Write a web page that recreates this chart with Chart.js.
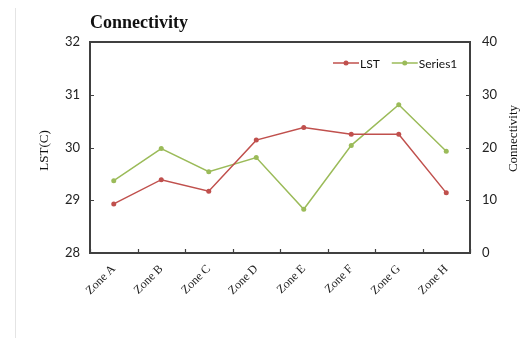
<!DOCTYPE html>
<html>
<head>
<meta charset="utf-8">
<script src="https://cdn.jsdelivr.net/npm/chart.js@4/dist/chart.umd.min.js"></script>
<style>
  html, body { margin: 0; padding: 0; background: #ffffff; }
  #wrap { position: relative; width: 529px; height: 338px; }
  #edge { position: absolute; left: 15px; top: 8px; width: 0; height: 330px; border-left: 1px solid #e4e4e4; }
  canvas { position: absolute; left: 0; top: 0; }
</style>
</head>
<body>
<div id="wrap">
  <div id="edge"></div>
  <canvas id="c" width="529" height="338"></canvas>
</div>
<script>
const chartTitle = "Connectivity";
const categories = ["Zone A", "Zone B", "Zone C", "Zone D", "Zone E", "Zone F", "Zone G", "Zone H"];
const lstLabel = "LST";
const lstValues = [28.93, 29.39, 29.17, 30.14, 30.38, 30.25, 30.25, 29.14];
const series1Label = "Series1";
const series1Values = [13.7, 19.8, 15.4, 18.1, 8.3, 20.4, 28.1, 19.3];
const leftAxisTitle = "LST(C)";
const rightAxisTitle = "Connectivity";
const leftTicks = [28, 29, 30, 31, 32];
const rightTicks = [0, 10, 20, 30, 40];

const RED = "#C0504D";
const GREEN = "#9BBB59";
const AXIS = "#404040";
const SERIF = "'Liberation Serif', 'Times New Roman', serif";
const SANS = "Lato, 'Liberation Sans', sans-serif";

const decor = {
  id: "decor",
  beforeDatasetsDraw(chart) {
    const ctx = chart.ctx;
    const a = chart.chartArea;
    const x = chart.scales.x, y = chart.scales.y, y1 = chart.scales.y1;
    ctx.save();
    ctx.strokeStyle = AXIS;
    ctx.lineWidth = 2;
    ctx.strokeRect(a.left, a.top, a.right - a.left, a.bottom - a.top);
    ctx.lineWidth = 1.2;
    ctx.beginPath();
    y.ticks.forEach((t, i) => {
      const py = Math.round(y.getPixelForTick(i)) + 0.5;
      ctx.moveTo(a.left, py); ctx.lineTo(a.left + 4, py);
    });
    y1.ticks.forEach((t, i) => {
      const py = Math.round(y1.getPixelForTick(i)) + 0.5;
      ctx.moveTo(a.right - 4, py); ctx.lineTo(a.right, py);
    });
    for (let i = 0; i <= categories.length; i++) {
      const px = Math.round(x.getPixelForValue(i - 0.5)) + 0.5;
      ctx.moveTo(px, a.bottom); ctx.lineTo(px, a.bottom - 4);
    }
    ctx.stroke();
    ctx.restore();
  },
  afterDraw(chart) {
    const ctx = chart.ctx;
    const a = chart.chartArea;
    ctx.save();
    // title
    ctx.fillStyle = "#111111";
    ctx.font = "bold 18px " + SERIF;
    ctx.textAlign = "left";
    ctx.textBaseline = "alphabetic";
    ctx.fillText(chartTitle, a.left, 28);
    // axis titles
    ctx.font = "13px " + SERIF;
    ctx.textAlign = "center";
    ctx.textBaseline = "middle";
    ctx.save();
    ctx.translate(45, (a.top + a.bottom) / 2 + 3);
    ctx.rotate(-Math.PI / 2);
    ctx.fillText(leftAxisTitle, 0, 0);
    ctx.restore();
    ctx.save();
    ctx.translate(514, (a.top + a.bottom) / 2 - 9);
    ctx.rotate(-Math.PI / 2);
    ctx.fillText(rightAxisTitle, 0, 0);
    ctx.restore();
    // legend inside plot
    const items = chart.data.datasets.map(d => ({ label: d.label, color: d.borderColor }));
    ctx.font = "12px " + SANS;
    ctx.textAlign = "left";
    ctx.textBaseline = "middle";
    const ly = a.top + 21;
    let lx = a.right - 137;
    items.forEach(it => {
      ctx.strokeStyle = it.color;
      ctx.lineWidth = 1.5;
      ctx.beginPath();
      ctx.moveTo(lx, ly); ctx.lineTo(lx + 26, ly);
      ctx.stroke();
      ctx.fillStyle = it.color;
      ctx.beginPath();
      ctx.arc(lx + 13, ly, 2.5, 0, Math.PI * 2);
      ctx.fill();
      ctx.fillStyle = "#111111";
      ctx.fillText(it.label, lx + 27, ly + 1);
      lx += 27 + ctx.measureText(it.label).width + 12;
    });
    ctx.restore();
  }
};

new Chart(document.getElementById("c"), {
  type: "line",
  data: {
    labels: categories,
    datasets: [
      { label: lstLabel, data: lstValues, yAxisID: "y", borderColor: RED, backgroundColor: RED,
        borderWidth: 1.5, pointRadius: 2.5, pointBorderWidth: 0, pointBackgroundColor: RED, tension: 0 },
      { label: series1Label, data: series1Values, yAxisID: "y1", borderColor: GREEN, backgroundColor: GREEN,
        borderWidth: 1.5, pointRadius: 2.5, pointBorderWidth: 0, pointBackgroundColor: GREEN, tension: 0 }
    ]
  },
  options: {
    responsive: false,
    animation: false,
    devicePixelRatio: 1,
    layout: { padding: { top: 42, left: 0, right: 0, bottom: 0 } },
    plugins: { legend: { display: false }, title: { display: false }, tooltip: { enabled: false } },
    scales: {
      x: {
        type: "category",
        offset: true,
        grid: { display: false, drawTicks: false },
        border: { display: false },
        ticks: { color: "#222222", font: { family: SERIF, size: 12 }, maxRotation: 45, minRotation: 45, padding: 9, autoSkip: false },
        afterFit(s) { s.height = 85; }
      },
      y: {
        position: "left",
        min: 28, max: 32,
        afterBuildTicks(s) { s.ticks = leftTicks.map(v => ({ value: v })); },
        grid: { display: false, drawTicks: false },
        border: { display: false },
        ticks: { color: "#222222", font: { family: SANS, size: 13 }, padding: 10 },
        afterFit(s) { s.width = 90; }
      },
      y1: {
        position: "right",
        min: 0, max: 40,
        afterBuildTicks(s) { s.ticks = rightTicks.map(v => ({ value: v })); },
        grid: { display: false, drawTicks: false },
        border: { display: false },
        ticks: { color: "#222222", font: { family: SANS, size: 13 }, padding: 12 },
        afterFit(s) { s.width = 59; }
      }
    }
  },
  plugins: [decor]
});
</script>
</body>
</html>
